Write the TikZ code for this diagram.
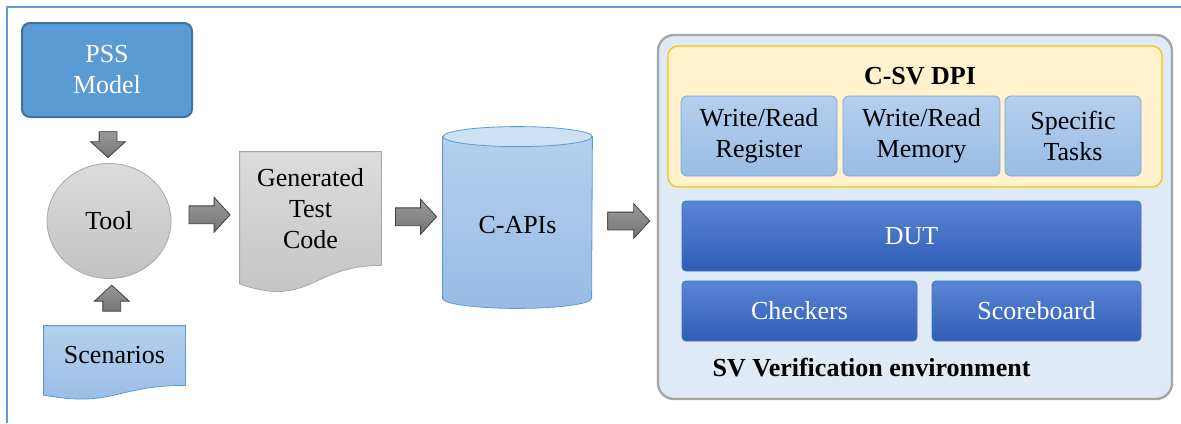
\documentclass[tikz,border=0pt]{standalone}
\usepackage{fontspec}
\setmainfont{Liberation Serif}
\usetikzlibrary{shapes.geometric,shapes.arrows,calc,backgrounds}
\definecolor{frm}{HTML}{5B9BD5}
\definecolor{pssf}{HTML}{5B9BD5}
\definecolor{pssd}{HTML}{41719C}
\definecolor{grt}{HTML}{DCDCDC}
\definecolor{grb}{HTML}{C2C2C2}
\definecolor{grd}{HTML}{A6A6A6}
\definecolor{blt}{HTML}{B4CFEE}
\definecolor{blb}{HTML}{98BCE5}
\definecolor{bld}{HTML}{5B9BD5}
\definecolor{arrt}{HTML}{9A9A9A}
\definecolor{arrb}{HTML}{747474}
\definecolor{arrd}{HTML}{3F3F3F}
\definecolor{envf}{HTML}{DEEBF7}
\definecolor{dpif}{HTML}{FFF2CC}
\definecolor{dpid}{HTML}{FFC000}
\definecolor{subd}{HTML}{7EA6D8}
\definecolor{dutt}{HTML}{5B85D4}
\definecolor{dutb}{HTML}{2F5DB7}
\definecolor{dutd}{HTML}{4470C4}
\tikzset{
  pssbox/.style={draw=pssd,fill=pssf,line width=1pt,rounded corners=4pt,text=white,align=center,minimum width=85pt,minimum height=47pt},
  toolnode/.style={ellipse,draw=grd,top color=grt,bottom color=grb,minimum width=62pt,minimum height=57.5pt},
  doctxt/.style={align=center,minimum width=70.5pt,inner sep=0pt},
  blkarr/.style={single arrow,draw=arrd,top color=arrt,bottom color=arrb,inner sep=4.25pt,single arrow head extend=4.25pt,single arrow tip angle=95,minimum width=0pt},
  envbox/.style={draw=grd,fill=envf,line width=1.2pt,rounded corners=8pt,minimum width=257pt,minimum height=182pt},
  dpibox/.style={draw=dpid,fill=dpif,line width=.6pt,rounded corners=5pt,minimum width=247pt,minimum height=70.5pt},
  subbox/.style={draw=subd,top color=blt,bottom color=blb,rounded corners=3pt,align=center,minimum height=40pt,inner sep=1pt},
  dutbox/.style={draw=dutd,top color=dutt,bottom color=dutb,rounded corners=2pt,text=white,minimum height=30pt},
  boldlbl/.style={font=\fontsize{13}{15.5}\selectfont\bfseries},
}

\begin{document}
\begin{tikzpicture}[x=0.5pt,y=0.5pt,font=\fontsize{13}{15.5}\selectfont]
  \useasboundingbox (0,0) rectangle (1181,-423);
  \draw[frm,line width=1pt] (7,-423) -- (7,-7) -- (1181,-7);

  % left flow
  \node[pssbox] (pss) at (107,-70) {PSS\\Model};
  \node[toolnode] (tool) at (109,-221) {Tool};
  \node[doctxt,minimum height=29.5pt] (scen) at (114.5,-355.5) {Scenarios};
  \node[doctxt,minimum height=56.5pt] (gen) at (310.5,-208.5) {Generated\\Test\\Code};
  \node[minimum width=74.5pt,minimum height=88pt,inner sep=0pt] (capi) at (517.5,-225) {C-APIs};

  \begin{scope}[on background layer]
    \path[draw=bld,top color=blt,bottom color=blb] (scen.north west) -- (scen.north east) -- (scen.south east)
      .. controls (scen.south) and ([yshift=-11.25pt]scen.south) .. ([yshift=-4.85pt]scen.south west) -- cycle;
    \path[draw=grd,top color=grt,bottom color=grb] (gen.north west) -- (gen.north east) -- (gen.south east)
      .. controls (gen.south) and ([yshift=-21.5pt]gen.south) .. ([yshift=-9.3pt]gen.south west) -- cycle;
    % cylinder
    \path[draw=bld,top color=blt,bottom color=blb] (capi.north west) -- ([yshift=7.5pt]capi.south west)
      arc[start angle=180,end angle=360,x radius=37.25pt,y radius=5pt] -- (capi.north east) -- cycle;
    \draw[bld,fill=blt!65!white] (capi.north) ellipse [x radius=37.25pt,y radius=5pt];
  \end{scope}

  % verification environment
  \node[envbox] (env) at (915,-217) {};
  \node[dpibox] (dpi) at (915,-116.5) {};
  \node[boldlbl] (dpilbl) at (920,-76) {C-SV DPI};
  \node[subbox,minimum width=78pt] (wrreg) at (759,-136) {Write/Read\\Register};
  \node[subbox,minimum width=78.5pt] (wrmem) at (921.5,-136) {Write/Read\\Memory};
  \node[subbox,minimum width=68pt] (spec) at (1073,-136) {Specific\\Tasks};
  \node[dutbox,minimum width=229.5pt,minimum height=35pt] (dut) at (911.5,-236) {DUT};
  \node[dutbox,minimum width=117.5pt] (chk) at (799.5,-311) {Checkers};
  \node[dutbox,minimum width=104.5pt] (scb) at (1036.5,-311) {Scoreboard};
  \node[boldlbl] (envlbl) at (871.5,-368) {SV Verification environment};

  % block arrows
  \node[blkarr,shape border rotate=270,minimum height=12pt] (a1) at ($(pss.south)!.5!(tool.north)$) {};
  \node[blkarr,shape border rotate=90,minimum height=12pt] (a2) at ($(tool.south)!.5!(scen.north)$) {};
  \node[blkarr,minimum height=20.5pt] (a3) at ($(tool.east)!.5!(gen.west)$ |- tool) {};
  \node[blkarr,minimum height=20.5pt] (a4) at ($(gen.east)!.5!(capi.west)$ |- tool) {};
  \node[blkarr,minimum height=21pt] (a5) at ($(capi.east)!.5!(env.west)$ |- tool) {};
\end{tikzpicture}
\end{document}
